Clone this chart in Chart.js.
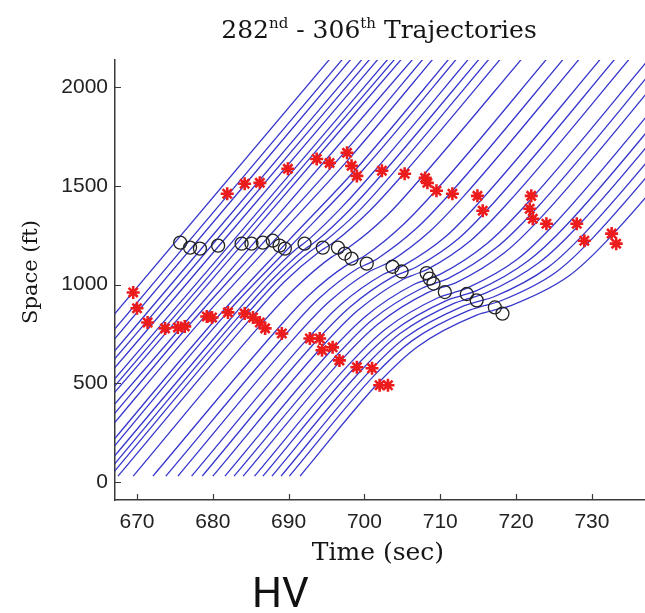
<!DOCTYPE html>
<html>
<head>
<meta charset="utf-8">
<title>282nd - 306th Trajectories</title>
<script src="https://cdn.jsdelivr.net/npm/chart.js@4.4.1/dist/chart.umd.min.js"></script>
<style>
  html, body { margin: 0; padding: 0; background: #fff; }
  #wrap { position: relative; width: 645px; height: 613px; }
</style>
</head>
<body>
<div id="wrap"><canvas id="chart" width="645" height="613"></canvas></div>
<script>
/* Vehicle trajectories, [time (sec), space (ft)] */

// axis ticks
const xTicks = [670, 680, 690, 700, 710, 720, 730];
const yTicks = [0, 500, 1000, 1500, 2000];

// one array per vehicle
const veh01 = [[665, 758], [696.7, 2200]];
const veh02 = [[665, 681], [698.4, 2200]];
const veh03 = [[665, 631], [699.5, 2200]];
const veh04 = [[665, 571], [678.9, 1200], [701.0, 2200]];
const veh05 = [[665, 531], [679.9, 1200], [702.0, 2200]];
const veh06 = [[665, 485], [680.9, 1200], [703.1, 2200]];
const veh07 = [[665, 430], [682.3, 1205], [704.4, 2200]];
const veh08 = [[665, 394], [683.1, 1205], [705.3, 2200]];
const veh09 = [[665, 362], [683.9, 1205], [706.2, 2200]];
const veh10 = [[665, 303], [685.4, 1210], [707.7, 2200]];
const veh11 = [[665, 253], [677.0, 800], [686.6, 1210], [696.7, 1640], [709.0, 2200]];
const veh12 = [[665, 207], [678.5, 820], [687.9, 1215], [697.7, 1625], [710.3, 2200]];
const veh13 = [[665, 126], [680.9, 847], [689.8, 1215], [698.9, 1585], [712.4, 2200]];
const veh14 = [[665, 89], [681.9, 858], [690.4, 1200], [699.7, 1576], [713.4, 2200]];
const veh15 = [[664.8, 30], [683.0, 856], [687.0, 1030], [691.0, 1180], [691.9, 1205], [692.7, 1230], [696.9, 1387], [701.2, 1570], [715.0, 2200]];
const veh16 = [[665.7, 30], [683.8, 855], [687.9, 1028], [692.0, 1175], [692.9, 1200], [693.8, 1225], [698.2, 1384], [702.5, 1567], [716.4, 2200]];
const veh17 = [[666.5, 30], [684.5, 850], [688.6, 1022], [692.9, 1170], [693.9, 1195], [694.8, 1220], [699.4, 1378], [703.7, 1562], [717.7, 2200]];
const veh18 = [[667.5, 30], [685.2, 836], [689.4, 1013], [694.0, 1165], [695.0, 1190], [696.0, 1215], [700.7, 1374], [705.1, 1558], [719.2, 2200]];
const veh19 = [[669.5, 30], [686.3, 796], [690.8, 980], [695.7, 1140], [696.9, 1165], [698.0, 1190], [703.0, 1351], [707.4, 1537], [722.0, 2200]];
const veh20 = [[672.1, 30], [688.3, 765], [692.6, 943], [697.6, 1097], [698.9, 1122], [700.1, 1147], [705.1, 1303], [709.6, 1485], [725.3, 2200]];
const veh21 = [[673.8, 30], [689.7, 752], [694.0, 929], [699.1, 1081], [700.5, 1106], [701.7, 1131], [706.9, 1286], [711.4, 1466], [727.5, 2200]];
const veh22 = [[675.4, 30], [691.0, 740], [695.4, 915], [700.6, 1065], [702.0, 1090], [703.3, 1115], [708.6, 1269], [713.1, 1448], [729.6, 2200]];
const veh23 = [[677.2, 30], [692.6, 730], [697.0, 903], [702.5, 1052], [704.0, 1077], [705.4, 1102], [710.8, 1246], [715.1, 1415], [732.4, 2200]];
const veh24 = [[678.6, 30], [693.5, 708], [698.1, 886], [703.8, 1040], [705.4, 1065], [706.9, 1090], [712.5, 1236], [716.9, 1408], [734.3, 2200]];
const veh25 = [[680.0, 30], [694.4, 685], [699.1, 868], [705.1, 1027], [706.7, 1052], [708.3, 1077], [714.1, 1226], [718.6, 1400], [736.2, 2200]];
const veh26 = [[681.6, 30], [695.4, 657], [700.2, 841], [706.5, 1000], [708.2, 1025], [709.9, 1050], [716.3, 1212], [721.2, 1400], [738.8, 2200]];
const veh27 = [[682.8, 30], [696.2, 636], [701.0, 821], [707.5, 980], [709.2, 1005], [711.0, 1030], [717.4, 1187], [722.3, 1370], [740.5, 2200]];
const veh28 = [[684.0, 30], [696.9, 615], [701.8, 800], [708.4, 960], [710.2, 985], [712.1, 1010], [718.5, 1162], [723.3, 1340], [742.2, 2200]];
const veh29 = [[685.5, 30], [697.9, 593], [702.8, 775], [709.7, 933], [711.7, 958], [713.6, 983], [720.2, 1129], [724.9, 1300], [744.7, 2200]];
const veh30 = [[686.6, 30], [698.8, 584], [703.8, 764], [710.8, 919], [712.8, 944], [714.8, 969], [721.6, 1120], [726.5, 1295], [746.4, 2200]];
const veh31 = [[687.8, 30], [699.8, 575], [704.7, 752], [711.8, 905], [713.8, 930], [715.9, 955], [723.0, 1110], [728.0, 1290], [748.0, 2200]];
const veh32 = [[689.0, 30], [700.6, 558], [705.5, 734], [712.8, 887], [714.8, 912], [717.0, 937], [724.2, 1087], [729.1, 1263], [749.7, 2200]];
const veh33 = [[690.1, 30], [701.3, 540], [706.3, 716], [713.7, 868], [715.8, 893], [718.0, 918], [725.3, 1064], [730.1, 1235], [751.3, 2200]];
const veh34 = [[691.5, 30], [701.8, 500], [707.0, 685], [714.8, 845], [717.1, 870], [719.4, 895], [726.9, 1042], [731.8, 1215], [753.5, 2200]];

const vehicles = [veh01, veh02, veh03, veh04, veh05, veh06, veh07, veh08, veh09, veh10,
  veh11, veh12, veh13, veh14, veh15, veh16, veh17, veh18, veh19, veh20,
  veh21, veh22, veh23, veh24, veh25, veh26, veh27, veh28, veh29, veh30,
  veh31, veh32, veh33, veh34];

// red stars, lower group
const lowerStarT = [669.5, 670.0, 671.4, 673.7, 675.4, 676.3, 679.2, 679.9, 682.0, 684.2, 685.3, 686.2, 686.9, 689.1, 692.8, 694.1, 694.4, 695.8, 696.7, 699.0, 701.0, 702.0, 703.1];
const lowerStarS = [960, 880, 808, 778, 783, 788, 838, 833, 859, 853, 833, 808, 778, 752, 727, 727, 667, 682, 616, 581, 576, 490, 490];

// black circles
const circleT = [675.7, 677.0, 678.3, 680.7, 683.8, 685.1, 686.6, 687.9, 688.8, 689.5, 692.1, 694.5, 696.5, 697.4, 698.3, 700.3, 703.7, 704.9, 708.2, 708.6, 709.1, 710.6, 713.5, 714.8, 717.2, 718.2];
const circleS = [1212, 1187, 1182, 1197, 1207, 1207, 1212, 1222, 1197, 1182, 1207, 1187, 1187, 1157, 1131, 1106, 1090, 1066, 1058, 1030, 1005, 962, 952, 920, 884, 853];

// red stars, upper group
const upperStarT = [681.9, 684.2, 686.2, 689.9, 693.7, 695.4, 697.7, 698.3, 699.0, 702.3, 705.3, 708.0, 708.3, 709.5, 711.6, 714.9, 715.6, 721.8, 722.0, 722.2, 724.0, 728.0, 729.0, 732.6, 733.2];
const upperStarS = [1460, 1510, 1515, 1586, 1636, 1616, 1667, 1601, 1550, 1576, 1561, 1540, 1515, 1475, 1460, 1449, 1374, 1384, 1449, 1333, 1308, 1308, 1222, 1258, 1207];

const BLUE = 'rgb(55,55,205)';
const RED = 'rgb(236,28,28)';
const AXIS = '#3a3a3a';

const pts = (ts, ss) => ts.map((t, i) => ({ x: t, y: ss[i] }));

const lineSets = vehicles.map(v => ({
  data: v.map(p => ({ x: p[0], y: p[1] })),
  showLine: true,
  borderColor: BLUE,
  borderWidth: 1.3,
  pointRadius: 0,
  pointHoverRadius: 0,
  cubicInterpolationMode: 'monotone',
  fill: false,
  order: 2
}));

const markerSets = [
  { data: pts(circleT, circleS), showLine: false, pointStyle: 'circle', pointRadius: 6.5,
    borderColor: '#222', backgroundColor: 'rgba(0,0,0,0)', borderWidth: 1.3, order: 1 },
  { data: pts(lowerStarT, lowerStarS), showLine: false, pointStyle: 'star', pointRadius: 6.5,
    borderColor: RED, backgroundColor: RED, borderWidth: 2.6, order: 0 },
  { data: pts(upperStarT, upperStarS), showLine: false, pointStyle: 'star', pointRadius: 6.5,
    borderColor: RED, backgroundColor: RED, borderWidth: 2.6, order: 0 }
];

// ticks point inwards, matlab style
const inwardTicks = {
  id: 'inwardTicks',
  afterDraw(chart) {
    const { ctx, chartArea: a, scales: { x, y } } = chart;
    ctx.save();
    ctx.strokeStyle = AXIS;
    ctx.lineWidth = 1.2;
    ctx.beginPath();
    xTicks.forEach(v => {
      const px = Math.round(x.getPixelForValue(v)) + 0.5;
      ctx.moveTo(px, a.bottom); ctx.lineTo(px, a.bottom - 6);
    });
    yTicks.forEach(v => {
      const py = Math.round(y.getPixelForValue(v)) + 0.5;
      ctx.moveTo(a.left, py); ctx.lineTo(a.left + 6, py);
    });
    ctx.stroke();
    ctx.restore();
  }
};

// title with superscripts, axis labels and the caption
const figText = {
  id: 'figText',
  afterDraw(chart) {
    const ctx = chart.ctx;
    ctx.save();
    ctx.fillStyle = '#151515';
    ctx.textBaseline = 'alphabetic';
    const big = '25px "DejaVu Serif"', small = '15px "DejaVu Serif"';
    const parts = [['282', big, 0], ['nd', small, -10], [' - 306', big, 0], ['th', small, -10], [' Trajectories', big, 0]];
    let w = 0;
    parts.forEach(p => { ctx.font = p[1]; w += ctx.measureText(p[0]).width; });
    let x = 379 - w / 2;
    parts.forEach(p => {
      ctx.font = p[1];
      ctx.fillText(p[0], x, 38 + p[2]);
      x += ctx.measureText(p[0]).width;
    });

    ctx.textAlign = 'center';
    ctx.font = '25px "DejaVu Serif"';
    ctx.fillText('Time (sec)', 378, 560);

    ctx.save();
    ctx.translate(37, 272);
    ctx.rotate(-Math.PI / 2);
    ctx.font = '21px "DejaVu Serif"';
    ctx.fillText('Space (ft)', 0, 0);
    ctx.restore();

    ctx.textAlign = 'left';
    ctx.font = '42px Roboto';
    ctx.fillStyle = '#111';
    ctx.fillText('HV', 252, 607);
    ctx.restore();
  }
};

new Chart(document.getElementById('chart'), {
  type: 'scatter',
  data: { datasets: markerSets.concat(lineSets) },
  options: {
    responsive: false,
    animation: false,
    devicePixelRatio: 1,
    events: [],
    layout: { autoPadding: false, padding: { left: 0, right: 0, top: 60, bottom: 48 } },
    plugins: { legend: { display: false }, tooltip: { enabled: false }, title: { display: false } },
    scales: {
      x: {
        type: 'linear', position: 'bottom', min: 667.1, max: 737,
        afterBuildTicks: s => { s.ticks = xTicks.map(v => ({ value: v })); },
        afterFit: s => { s.height = 65; s.paddingLeft = 0; s.paddingRight = 0; },
        grid: { display: false, drawTicks: false },
        border: { display: true, color: AXIS, width: 1.5 },
        ticks: { font: { family: 'Liberation Sans', size: 21 }, color: '#222', padding: 10,
          maxRotation: 0, autoSkip: false, callback: v => String(v) }
      },
      y: {
        type: 'linear', position: 'left', min: -91, max: 2137,
        afterBuildTicks: s => { s.ticks = yTicks.map(v => ({ value: v })); },
        afterFit: s => { s.width = 115; s.paddingTop = 0; s.paddingBottom = 0; },
        grid: { display: false, drawTicks: false },
        border: { display: true, color: AXIS, width: 1.5 },
        ticks: { font: { family: 'Liberation Sans', size: 21 }, color: '#222', padding: 7,
          callback: v => String(v) }
      }
    }
  },
  plugins: [inwardTicks, figText]
});
</script>
</body>
</html>
